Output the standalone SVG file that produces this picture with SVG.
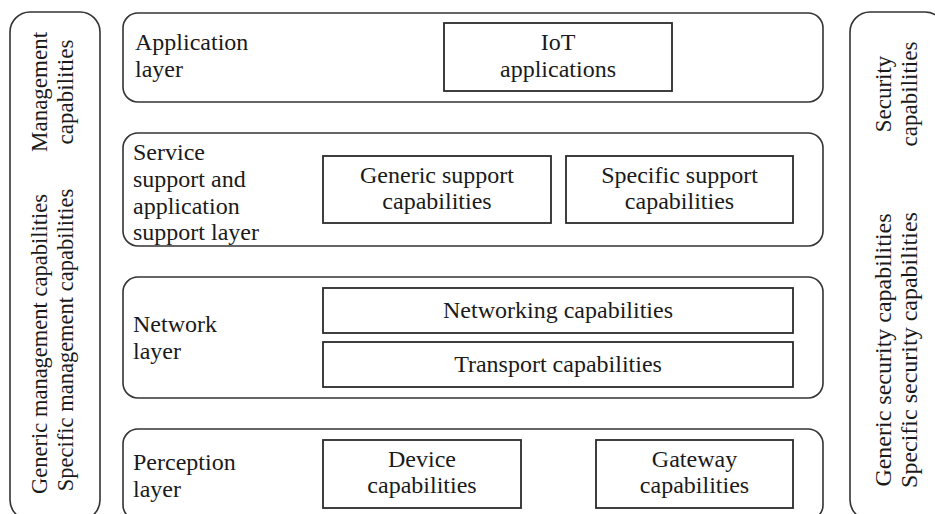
<svg xmlns="http://www.w3.org/2000/svg" width="935" height="514" viewBox="0 0 935 514">
  <style>
    .frame { fill: #ffffff; stroke: #333333; stroke-width: 1.6; }
    .box { fill: #ffffff; stroke: #2b2b2b; stroke-width: 1.8; }
    text { font-family: 'Liberation Serif', 'Times New Roman', serif; font-size: 24px; fill: #1a1a1a; }
    .c { text-anchor: middle; }
    .side { font-size: 23px; text-anchor: middle; }
    .side-s { font-size: 22.5px; text-anchor: middle; }
    .side-l { font-size: 24px; text-anchor: middle; }
  </style>
  <rect width="935" height="514" fill="#ffffff"/>

  <!-- Management capabilities column -->
  <g id="management">
    <rect class="frame" x="10" y="12" width="90" height="508" rx="20" ry="20"/>
    <text class="side" transform="translate(47,92) rotate(-90)">Management</text>
    <text class="side" transform="translate(73,92) rotate(-90)">capabilities</text>
    <text class="side-s" transform="translate(47,344) rotate(-90)">Generic management capabilities</text>
    <text class="side-s" transform="translate(73,340) rotate(-90)">Specific management capabilities</text>
  </g>

  <!-- Security capabilities column -->
  <g id="security">
    <rect class="frame" x="850" y="12" width="95" height="508" rx="20" ry="20"/>
    <text class="side" transform="translate(891,94) rotate(-90)">Security</text>
    <text class="side" transform="translate(917,94) rotate(-90)">capabilities</text>
    <text class="side-l" transform="translate(891,350) rotate(-90)">Generic security capabilities</text>
    <text class="side-l" transform="translate(917,350) rotate(-90)">Specific security capabilities</text>
  </g>

  <!-- Application layer -->
  <g id="application-layer">
    <rect class="frame" x="123" y="13" width="700" height="89" rx="15" ry="15"/>
    <text x="135" y="50">Application</text>
    <text x="135" y="77">layer</text>
  </g>
  <g id="iot-applications">
    <rect class="box" x="444" y="23" width="228" height="68"/>
    <text class="c" x="558" y="50">IoT</text>
    <text class="c" x="558" y="77">applications</text>
  </g>

  <!-- Service support and application support layer -->
  <g id="service-layer">
    <rect class="frame" x="123" y="133" width="700" height="113" rx="15" ry="15"/>
    <text x="133" y="160">Service</text>
    <text x="133" y="187">support and</text>
    <text x="133" y="214">application</text>
    <text x="133" y="240">support layer</text>
  </g>
  <g id="generic-support">
    <rect class="box" x="323" y="156" width="228" height="67"/>
    <text class="c" x="437" y="183">Generic support</text>
    <text class="c" x="437" y="209">capabilities</text>
  </g>
  <g id="specific-support">
    <rect class="box" x="566" y="156" width="227" height="67"/>
    <text class="c" x="679.5" y="183">Specific support</text>
    <text class="c" x="679.5" y="209">capabilities</text>
  </g>

  <!-- Network layer -->
  <g id="network-layer">
    <rect class="frame" x="123" y="277" width="700" height="121" rx="15" ry="15"/>
    <text x="133" y="332">Network</text>
    <text x="133" y="359">layer</text>
  </g>
  <g id="networking">
    <rect class="box" x="323" y="288" width="470" height="45"/>
    <text class="c" x="558" y="318">Networking capabilities</text>
  </g>
  <g id="transport">
    <rect class="box" x="323" y="342" width="470" height="45"/>
    <text class="c" x="558" y="372">Transport capabilities</text>
  </g>

  <!-- Perception layer -->
  <g id="perception-layer">
    <rect class="frame" x="123" y="429" width="700" height="91" rx="15" ry="15"/>
    <text x="133" y="470">Perception</text>
    <text x="133" y="497">layer</text>
  </g>
  <g id="device">
    <rect class="box" x="323" y="440" width="198" height="68"/>
    <text class="c" x="422" y="467">Device</text>
    <text class="c" x="422" y="493">capabilities</text>
  </g>
  <g id="gateway">
    <rect class="box" x="596" y="440" width="197" height="68"/>
    <text class="c" x="694.5" y="467">Gateway</text>
    <text class="c" x="694.5" y="493">capabilities</text>
  </g>

  <!-- no connectors in this layered view -->
  <g id="connectors"/>
</svg>
